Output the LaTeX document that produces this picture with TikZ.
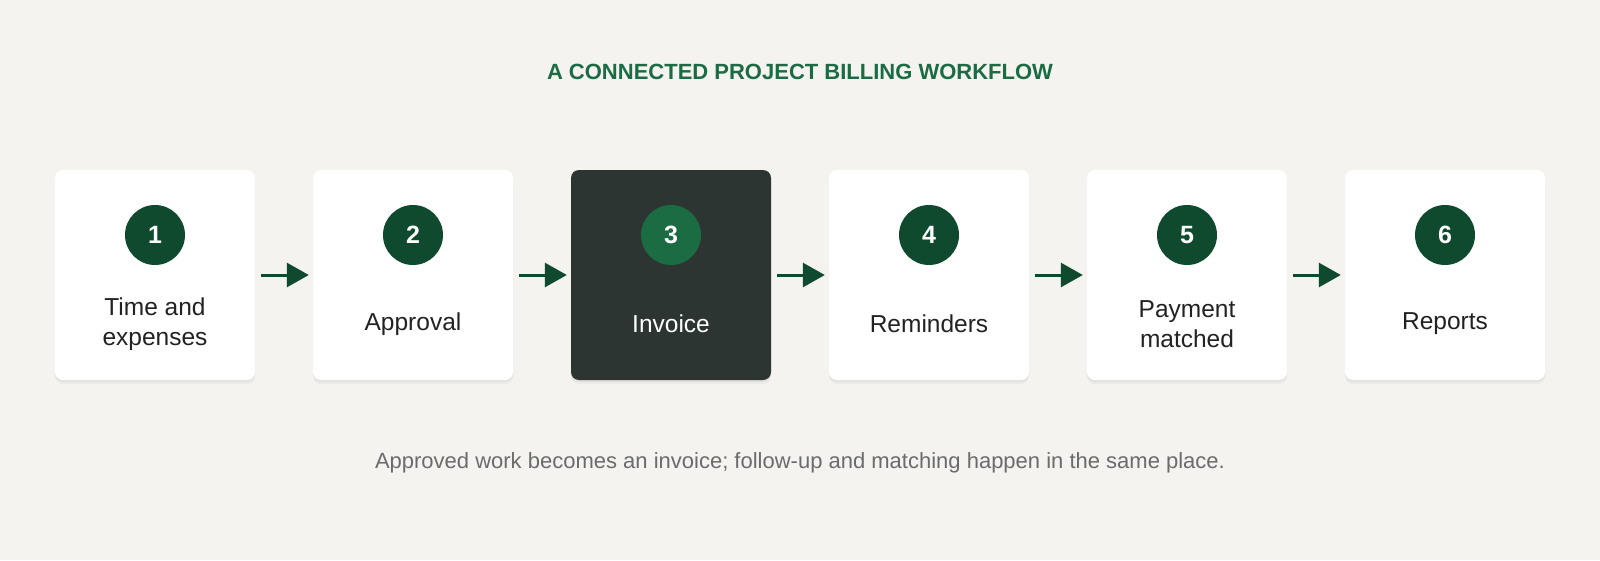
\documentclass[tikz,border=0pt]{standalone}
\usepackage{fontspec}
\setmainfont{Liberation Sans}
\usetikzlibrary{arrows.meta}
\definecolor{paper}{HTML}{F4F3EF}
\definecolor{forest}{HTML}{0F4A2E}
\definecolor{leaf}{HTML}{1B6B43}
\definecolor{slate}{HTML}{2C3531}
\definecolor{ink}{HTML}{222222}
\definecolor{muted}{HTML}{6B6B6B}
\tikzset{
  softshadow/.style={preaction={fill=black, fill opacity=0.03, transform canvas={yshift=-4pt}, rounded corners=12pt, inner sep=4pt},
    preaction={fill=black, fill opacity=0.04, transform canvas={yshift=-2pt}, rounded corners=10pt, inner sep=1.5pt}},
  stepbox/.style={softshadow, fill=white, rounded corners=8pt, minimum width=200pt, minimum height=210pt},
  darkbox/.style={stepbox, fill=slate},
  badge/.style={circle, fill=forest, minimum size=60pt, inner sep=0pt, text=white,
    font=\fontsize{25}{25}\selectfont\bfseries},
  hotbadge/.style={badge, fill=leaf},
  steplabel/.style={text=ink, align=center, font=\fontsize{24.5}{30}\selectfont},
  flow/.style={draw=forest, line width=3pt, -{Triangle[length=22pt, width=24pt]},
    shorten <=6pt, shorten >=4pt}
}

\begin{document}
\begin{tikzpicture}[x=1pt, y=-1pt]
    \fill[paper] (0,0) rectangle (1600,560);
    \useasboundingbox (0,0) rectangle (1600,560);

    \node at (800,72) (title) {\textcolor{leaf}{\fontsize{22}{22}\selectfont\bfseries A CONNECTED PROJECT BILLING WORKFLOW}};

    \node[stepbox]  at (155,275)  (s1) {};
    \node[stepbox]  at (413,275)  (s2) {};
    \node[darkbox]  at (671,275)  (s3) {};
    \node[stepbox]  at (929,275)  (s4) {};
    \node[stepbox]  at (1187,275) (s5) {};
    \node[stepbox]  at (1445,275) (s6) {};

    \node[badge]    at (155,235)  (n1) {1};
    \node[badge]    at (413,235)  (n2) {2};
    \node[hotbadge] at (671,235)  (n3) {3};
    \node[badge]    at (929,235)  (n4) {4};
    \node[badge]    at (1187,235) (n5) {5};
    \node[badge]    at (1445,235) (n6) {6};

    \node[steplabel] at (155,324)  (l1) {Time and\\expenses};
    \node[steplabel] at (413,324)  (l2) {Approval};
    \node[steplabel, text=white] at (671,324) (l3) {Invoice};
    \node[steplabel] at (929,324)  (l4) {Reminders};
    \node[steplabel] at (1187,324) (l5) {Payment\\matched};
    \node[steplabel] at (1445,324) (l6) {Reports};

    \draw[flow] (s1) -- (s2);
    \draw[flow] (s2) -- (s3);
    \draw[flow] (s3) -- (s4);
    \draw[flow] (s4) -- (s5);
    \draw[flow] (s5) -- (s6);

    \node at (800,463) (note) {\textcolor{muted}{\fontsize{22}{22}\selectfont Approved work becomes an invoice; follow-up and matching happen in the same place.}};
\end{tikzpicture}
\end{document}
